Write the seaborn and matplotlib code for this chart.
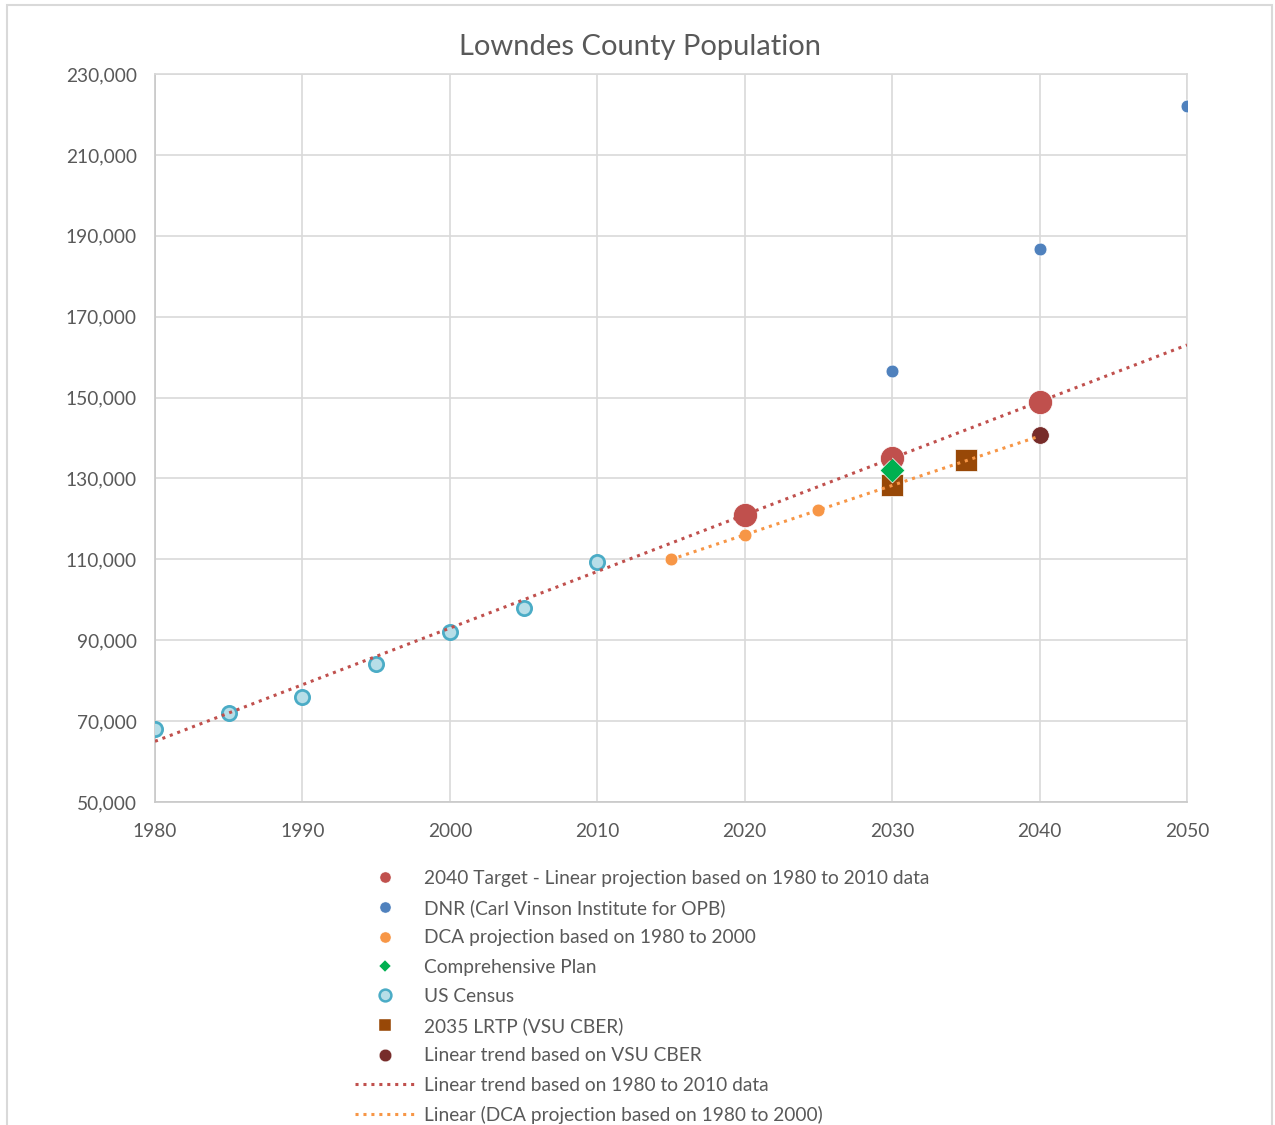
import numpy as np
import pandas as pd
import matplotlib
matplotlib.use("Agg")
import matplotlib.pyplot as plt
from matplotlib.lines import Line2D
from matplotlib.patches import Rectangle
from matplotlib.ticker import FuncFormatter, FixedLocator
import seaborn as sns

# ---------------- data ----------------
title = "Lowndes County Population"

census_years = [1980, 1985, 1990, 1995, 2000, 2005, 2010]
census_pop = [67972, 72000, 75981, 84000, 92115, 98000, 109233]

target_years = [2020, 2030, 2040]
target_pop = [121000, 135000, 149000]

dnr_years = [2030, 2040, 2050]
dnr_pop = [156500, 186700, 222000]

dca_years = [2015, 2020, 2025]
dca_pop = [110000, 116000, 122200]

comp_years = [2030]
comp_pop = [132000]

lrtp_years = [2030, 2035]
lrtp_pop = [128400, 134500]

vsu_years = [2040]
vsu_pop = [140700]

trend1_range = [1980, 2050]
trend2_range = [2015, 2040]

x_ticks = [1980, 1990, 2000, 2010, 2020, 2030, 2040, 2050]
y_ticks = [50000, 70000, 90000, 110000, 130000, 150000, 170000, 190000, 210000, 230000]

labels = [
    "2040 Target - Linear projection based on 1980 to 2010 data",
    "DNR (Carl Vinson Institute for OPB)",
    "DCA projection based on 1980 to 2000",
    "Comprehensive Plan",
    "US Census",
    "2035 LRTP (VSU CBER)",
    "Linear trend based on VSU CBER",
    "Linear trend based on 1980 to 2010 data",
    "Linear (DCA projection based on 1980 to 2000)",
]

# ---------------- style ----------------
sns.set_theme(style="white")
plt.rcParams["font.family"] = ["Lato", "DejaVu Sans"]
TXT = "#595959"
GRID = "#d9d9d9"
C_RED = "#c0504d"
C_BLUE = "#4f81bd"
C_ORANGE = "#f79646"
C_GREEN = "#00b050"
C_BROWN = "#984807"
C_CEN_F = "#b7dee8"
C_CEN_E = "#4bacc6"
C_DKRED = "#772c2a"

fig = plt.figure(figsize=(12.75, 11.25), dpi=100)
ax = fig.add_axes([155 / 1275, 1 - 802 / 1125, (1187 - 155) / 1275, (802 - 74) / 1125])

# trend lines computed from data
p1 = np.polyfit(target_years, target_pop, 1)
t1x = np.array(trend1_range, dtype=float)
p2 = np.polyfit(dca_years, dca_pop, 1)
t2x = np.array(trend2_range, dtype=float)

sns.lineplot(x=t1x, y=np.polyval(p1, t1x), ax=ax, color=C_RED, lw=2.2,
             linestyle=(0, (1, 1.6)), zorder=4)
sns.lineplot(x=t2x, y=np.polyval(p2, t2x), ax=ax, color=C_ORANGE, lw=2.2,
             linestyle=(0, (1, 1.6)), zorder=4)

# points
sns.scatterplot(x=census_years, y=census_pop, ax=ax, marker="o", s=105,
                color=C_CEN_F, edgecolor=C_CEN_E, linewidth=2.0, zorder=3)
sns.scatterplot(x=target_years, y=target_pop, ax=ax, marker="o", s=300,
                color=C_RED, edgecolor="white", linewidth=0.5, zorder=3)
sns.scatterplot(x=dnr_years, y=dnr_pop, ax=ax, marker="o", s=85,
                color=C_BLUE, edgecolor="white", linewidth=0.5, zorder=3)
sns.scatterplot(x=dca_years, y=dca_pop, ax=ax, marker="o", s=85,
                color=C_ORANGE, edgecolor="white", linewidth=0.5, zorder=3)
sns.scatterplot(x=lrtp_years, y=lrtp_pop, ax=ax, marker="s", s=230,
                color=C_BROWN, edgecolor="white", linewidth=0.5, zorder=3)
sns.scatterplot(x=comp_years, y=comp_pop, ax=ax, marker="D", s=160,
                color=C_GREEN, edgecolor="white", linewidth=0.5, zorder=3)
sns.scatterplot(x=vsu_years, y=vsu_pop, ax=ax, marker="o", s=160,
                color=C_DKRED, edgecolor="white", linewidth=0.5, zorder=3)

ax.set_xlim(x_ticks[0], x_ticks[-1])
ax.set_ylim(y_ticks[0], y_ticks[-1])
ax.xaxis.set_major_locator(FixedLocator(x_ticks))
ax.yaxis.set_major_locator(FixedLocator(y_ticks))
ax.yaxis.set_major_formatter(FuncFormatter(lambda v, p: f"{int(v):,}"))
ax.grid(True, color=GRID, lw=1.2)
ax.set_axisbelow(True)
for sp in ax.spines.values():
    sp.set_color(GRID)
    sp.set_linewidth(1.2)
ax.spines["left"].set_color("#c8c8c8")
ax.spines["bottom"].set_color("#c8c8c8")
ax.tick_params(axis="both", length=0, labelsize=13.8, labelcolor=TXT)
ax.tick_params(axis="y", pad=13)
ax.tick_params(axis="x", pad=15)
ax.set_xlabel("")
ax.set_ylabel("")

fig.text(640 / 1275, 1 - 47 / 1125, title, ha="center", va="center",
         fontsize=21, color=TXT)

# legend
handles = [
    Line2D([], [], ls="none", marker="o", ms=8, color=C_RED, mec="white", mew=0.3),
    Line2D([], [], ls="none", marker="o", ms=8, color=C_BLUE, mec="white", mew=0.3),
    Line2D([], [], ls="none", marker="o", ms=8, color=C_ORANGE, mec="white", mew=0.3),
    Line2D([], [], ls="none", marker="D", ms=6.5, color=C_GREEN, mec="white", mew=0.3),
    Line2D([], [], ls="none", marker="o", ms=8.5, mfc=C_CEN_F, mec=C_CEN_E, mew=1.8),
    Line2D([], [], ls="none", marker="s", ms=8, color=C_BROWN, mec="white", mew=0.3),
    Line2D([], [], ls="none", marker="o", ms=9, color=C_DKRED, mec="white", mew=0.3),
    Line2D([], [], color=C_RED, lw=2.2, ls=(0, (1, 1.6))),
    Line2D([], [], color=C_ORANGE, lw=2.2, ls=(0, (1, 1.6))),
]
leg = fig.legend(handles, labels, loc="upper left",
                 bbox_to_anchor=(355 / 1275, 1 - 870 / 1125),
                 frameon=False, fontsize=13.8, borderpad=0, borderaxespad=0,
                 handlelength=3.1, handletextpad=0.5, labelspacing=0.64)
for t in leg.get_texts():
    t.set_color(TXT)

# chart border
fig.patches.append(Rectangle((7 / 1275, -0.01), (1272 - 7) / 1275, 1 - 5 / 1125 + 0.01,
                             transform=fig.transFigure, fill=False,
                             edgecolor=GRID, lw=1.5))

fig.savefig("out.png", dpi=100, facecolor="white")
